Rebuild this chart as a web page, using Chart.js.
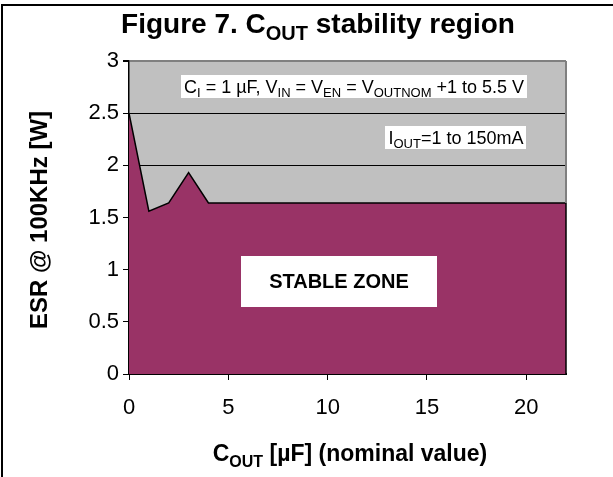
<!DOCTYPE html>
<html>
<head>
<meta charset="utf-8">
<script src="https://cdn.jsdelivr.net/npm/chart.js@4.4.0/dist/chart.umd.min.js"></script>
<style>
  html, body { margin: 0; padding: 0; background: #fff; }
</style>
</head>
<body>
<canvas id="myChart" width="613" height="477"></canvas>
<script>
// C_OUT in uF and the ESR limit (last point closes the area at 22 uF)
var capValues = [0, 1, 2, 3, 4, 22, 22];
var esrValues = [2.5, 1.56, 1.64, 1.93, 1.64, 1.64, 0];
var xTicks = [0, 5, 10, 15, 20];
var yTicks = [0, 0.5, 1, 1.5, 2, 2.5, 3];

// text notes, placed in data units
var notes = [
  { x: 11.33, y: 2.755, bold: false, size: 18, parts: [['C'], ['I', 1], [' = 1 µF, V'], ['IN', 1], [' = V'], ['EN', 1], [' = V'], ['OUTNOM', 1], [' +1 to 5.5 V']] },
  { x: 16.46, y: 2.262, bold: false, size: 18, parts: [['I'], ['OUT', 1], ['=1 to 150mA']] },
  { x: 10.57, y: 0.887, bold: true, size: 20, parts: [['STABLE ZONE']], boxW: 196, boxH: 51 }
];

var FONT = '"Liberation Sans", Arial, sans-serif';

function fontStr(bold, size) {
  return (bold ? 'bold ' : '') + size + 'px ' + FONT;
}

function richWidth(ctx, parts, bold, size) {
  var w = 0;
  parts.forEach(function (p) {
    ctx.font = fontStr(bold, p[1] ? Math.round(size * 0.7) : size);
    w += ctx.measureText(p[0]).width;
  });
  return w;
}

// draws text with subscripts, x is the left edge, y the baseline
function drawRich(ctx, parts, x, y, bold, size) {
  ctx.textAlign = 'left';
  ctx.textBaseline = 'alphabetic';
  parts.forEach(function (p) {
    var s = p[1] ? Math.round(size * 0.7) : size;
    ctx.font = fontStr(bold, s);
    ctx.fillText(p[0], x, p[1] ? y + size * 0.25 : y);
    x += ctx.measureText(p[0]).width;
  });
}

var decor = {
  id: 'decor',
  beforeDraw: function (chart) {
    var ctx = chart.ctx, a = chart.chartArea;
    ctx.save();
    ctx.fillStyle = '#fff';
    ctx.fillRect(0, 0, chart.width, chart.height);
    // outer frame (left and top)
    ctx.strokeStyle = '#000';
    ctx.lineWidth = 2;
    ctx.beginPath();
    ctx.moveTo(2, chart.height);
    ctx.lineTo(2, 5);
    ctx.lineTo(chart.width, 5);
    ctx.stroke();
    ctx.fillStyle = '#c0c0c0';
    ctx.fillRect(a.left, a.top, a.right - a.left, a.bottom - a.top);
    ctx.restore();
  },
  afterDatasetsDraw: function (chart) {
    var ctx = chart.ctx, a = chart.chartArea;
    var xs = chart.scales.x, ys = chart.scales.y;
    ctx.save();
    // right edge of plot area above the fill
    ctx.strokeStyle = '#808080';
    ctx.lineWidth = 2;
    ctx.beginPath();
    ctx.moveTo(a.right, a.top);
    ctx.lineTo(a.right, ys.getPixelForValue(esrValues[esrValues.length - 2]));
    ctx.stroke();

    notes.forEach(function (n) {
      var w = richWidth(ctx, n.parts, n.bold, n.size);
      var cx = xs.getPixelForValue(n.x), cy = ys.getPixelForValue(n.y);
      var bw = n.boxW || w + 6, bh = n.boxH || n.size + 5;
      ctx.fillStyle = '#fff';
      ctx.fillRect(Math.round(cx - bw / 2), Math.round(cy - bh / 2), Math.round(bw), Math.round(bh));
      ctx.fillStyle = '#000';
      drawRich(ctx, n.parts, cx - w / 2, cy + n.size * 0.33, n.bold, n.size);
    });

    // chart title
    ctx.fillStyle = '#000';
    var tParts = [['Figure 7. C'], ['OUT', 1], [' stability region']];
    var tw = richWidth(ctx, tParts, true, 28);
    drawRich(ctx, tParts, 318 - tw / 2, 33, true, 28);

    // x axis title
    var xParts = [['C'], ['OUT', 1], [' [µF] (nominal value)']];
    var xw = richWidth(ctx, xParts, true, 23);
    drawRich(ctx, xParts, 350 - xw / 2, 461, true, 23);

    // y axis title
    ctx.translate(47, 220);
    ctx.rotate(-Math.PI / 2);
    ctx.font = fontStr(true, 24);
    ctx.textAlign = 'center';
    ctx.textBaseline = 'alphabetic';
    ctx.fillText('ESR @ 100KHz [W]', 0, 0);
    ctx.restore();
  }
};

var ctx = document.getElementById('myChart').getContext('2d');
var myChart = new Chart(ctx, {
  type: 'scatter',
  data: {
    datasets: [{
      data: capValues.map(function (c, i) { return { x: c, y: esrValues[i] }; }),
      showLine: true,
      fill: 'origin',
      backgroundColor: '#993366',
      borderColor: '#000',
      borderWidth: 1.5,
      pointRadius: 0,
      tension: 0,
      clip: 3
    }]
  },
  options: {
    responsive: false,
    animation: false,
    events: [],
    layout: { padding: { top: 61, right: 47, left: 0, bottom: 0 } },
    plugins: {
      legend: { display: false },
      tooltip: { enabled: false }
    },
    scales: {
      x: {
        type: 'linear',
        min: 0,
        max: 22,
        afterFit: function (s) { s.height = 103; },
        afterBuildTicks: function (s) { s.ticks = xTicks.map(function (v) { return { value: v }; }); },
        grid: { drawOnChartArea: false, drawTicks: true, tickLength: 6, color: '#000', tickColor: '#000' },
        border: { display: true, color: '#000', width: 2 },
        ticks: { font: { family: FONT, size: 22 }, color: '#000', padding: 15, maxRotation: 0,
          callback: function (v) { return String(v); } }
      },
      y: {
        min: 0,
        max: 3,
        afterFit: function (s) { s.width = 129; },
        afterBuildTicks: function (s) { s.ticks = yTicks.map(function (v) { return { value: v }; }); },
        grid: {
          drawTicks: true,
          tickLength: 6,
          tickColor: '#000',
          color: function (c) { return c.tick && c.tick.value === 3 ? '#808080' : '#000'; },
          lineWidth: function (c) { return c.tick && c.tick.value === 3 ? 2 : 1; }
        },
        border: { display: true, color: '#000', width: 1.5 },
        ticks: { font: { family: FONT, size: 22 }, color: '#000', padding: 4,
          callback: function (v) { return String(v); } }
      }
    }
  },
  plugins: [decor]
});
</script>
</body>
</html>
